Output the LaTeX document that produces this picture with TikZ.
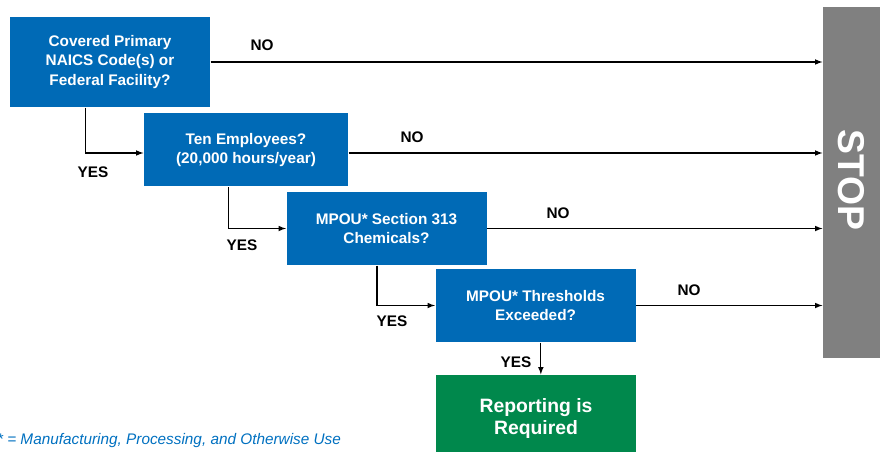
\documentclass[tikz,border=0pt]{standalone}
\usepackage{fontspec}
\setmainfont{Liberation Sans}
\usepackage{tikz}

\definecolor{boxblue}{RGB}{0,106,182}
\definecolor{boxgreen}{RGB}{0,136,76}
\definecolor{stopgray}{RGB}{128,128,128}
\definecolor{noteblue}{RGB}{0,112,192}

\tikzset{
    question/.style={fill=boxblue, text=white, align=center, inner sep=0pt,
        minimum width=150pt, minimum height=54.75pt,
        font=\fontsize{11.5}{14.4}\selectfont\bfseries},
    answer/.style={font=\fontsize{11.5}{14}\selectfont\bfseries}
}

\begin{document}
\begin{tikzpicture}[x=0.75pt,y=-0.75pt,>=latex,line width=0.9pt]
            \useasboundingbox (0,0) rectangle (880,452);
            \node[question, minimum height=67.5pt] at (110,62) (q1) {Covered Primary\\NAICS Code(s) or\\Federal Facility?};
            \node[question, minimum width=153pt] at (246,150) (q2) {Ten Employees?\\(20,000 hours/year)};
            \node[question] at (386.5,228.5) (q3) {MPOU* Section 313\\Chemicals?};
            \node[question] at (535.5,305.5) (q4) {MPOU* Thresholds\\Exceeded?};
            \node[question, fill=boxgreen, minimum height=64.5pt,
                font=\fontsize{14.5}{16.5}\selectfont\bfseries] at (536,418) (rep) {Reporting is\\Required};
            \node[fill=stopgray, inner sep=0pt, minimum width=42.75pt, minimum height=263.25pt] at (851.5,182.5) (stop) {};
            \node[text=white, rotate=-90, font=\fontsize{28}{30}\selectfont\bfseries] at (851.5,180) (stoptxt) {STOP};
            \node[text=noteblue, anchor=east, font=\fontsize{11.5}{14}\selectfont\itshape] at (346,441) (note) {* = Manufacturing, Processing, and Otherwise Use};
            \node[answer] at (262,45) (no1) {NO};
            \node[answer] at (412,137) (no2) {NO};
            \node[answer] at (558,213) (no3) {NO};
            \node[answer] at (689,290) (no4) {NO};
            \node[answer] at (93,172) (yes1) {YES};
            \node[answer] at (242,245) (yes2) {YES};
            \node[answer] at (392,321) (yes3) {YES};
            \node[answer] at (516,362) (yes4) {YES};
            \coordinate (q2in) at ([yshift=-2.25pt]q2.west);
            \coordinate (q2out) at ([yshift=-2.25pt]q2.east);
            \draw[->] (q1) -- (stop.west |- q1);
            \draw[->] (q2out) -- (stop.west |- q2out);
            \draw[->] (q3) -- (stop.west |- q3);
            \draw[->] (q4) -- (stop.west |- q4);
            \draw[->] ([xshift=57pt]q1.south west) |- (q2in);
            \draw[->] ([xshift=63.75pt]q2.south west) |- (q3.west);
            \draw[->] ([xshift=68.25pt]q3.south west) |- (q4.west);
            \draw[->] ([xshift=4pt]q4.south) -- ([xshift=4pt]q4.south |- rep.north);
        \end{tikzpicture}
\end{document}
